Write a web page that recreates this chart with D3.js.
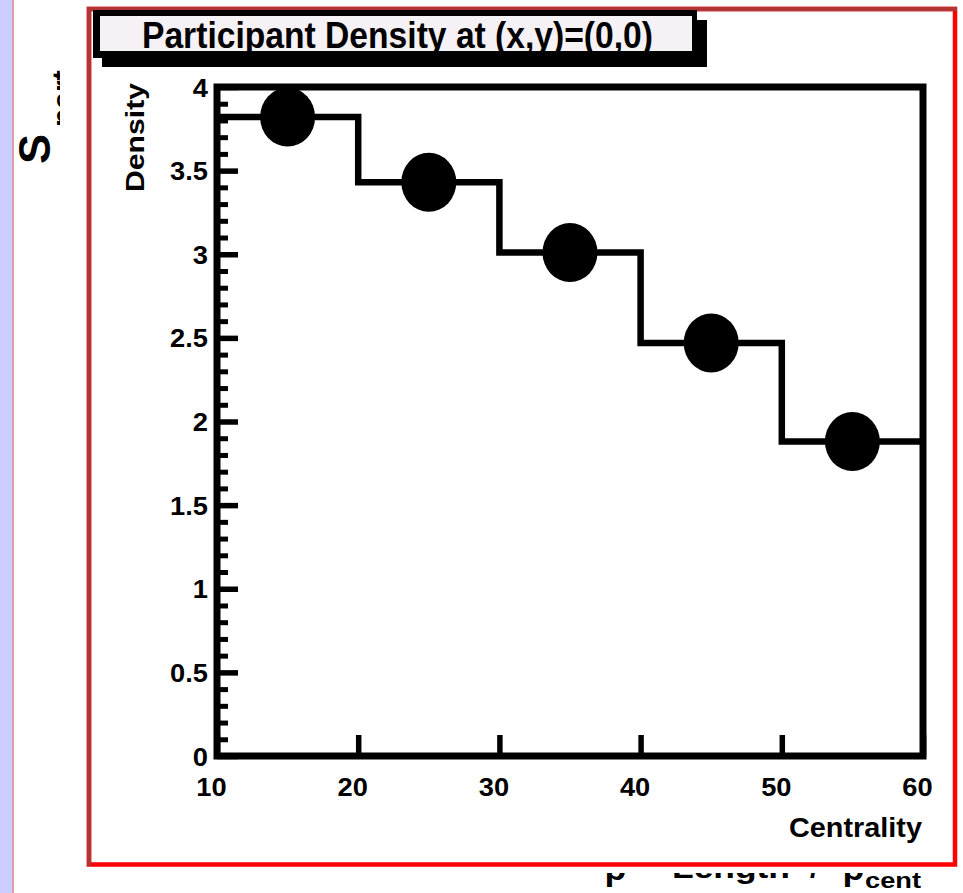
<!DOCTYPE html>
<html>
<head>
<meta charset="utf-8">
<script src="https://cdn.jsdelivr.net/npm/d3@7/dist/d3.min.js"></script>
<style>
  html, body { margin: 0; padding: 0; background: #ffffff; }
  svg { display: block; }
  text { font-family: "Liberation Sans", Arial, Helvetica, sans-serif; font-weight: bold; fill: #000; }
</style>
</head>
<body>
<svg id="chart" width="963" height="893"></svg>
<script>
// Centrality bins (percent) and participant density at the centre of each bin
const binEdges = [10, 20, 30, 40, 50, 60];
const binCenters = [15, 25, 35, 45, 55];
const density = [3.82, 3.43, 3.01, 2.47, 1.88];

// Axis ticks
const xTickValues = [10, 20, 30, 40, 50, 60];
const xTickLabels = ["10", "20", "30", "40", "50", "60"];
const yMajorTicks = [0, 0.5, 1, 1.5, 2, 2.5, 3, 3.5, 4];
const yTickLabels = ["0", "0.5", "1", "1.5", "2", "2.5", "3", "3.5", "4"];
const yMinorTicks = d3.range(1, 40).map(i => i / 10).filter(v => Math.abs(v * 2 - Math.round(v * 2)) > 1e-6);

const titleText = "Participant Density at (x,y)=(0,0)";
const xTitle = "Centrality";
const yTitle = "Density";

const svg = d3.select("#chart");

// Wide-glyph look of the labels: stretch each label horizontally
function widen(sel, factor) {
  sel.each(function () {
    const w = this.getComputedTextLength();
    this.setAttribute("textLength", (w * factor).toFixed(1));
    this.setAttribute("lengthAdjust", "spacingAndGlyphs");
  });
}

// ---- Slide background: left band and text lying behind the figure ----
svg.append("rect").attr("x", 0).attr("y", 0).attr("width", 12).attr("height", 893).attr("fill", "#ccccff");
svg.append("rect").attr("x", 12).attr("y", 0).attr("width", 2).attr("height", 893).attr("fill", "#dfa0a8");

svg.append("text")
  .attr("transform", "translate(50,164) rotate(-90)")
  .style("font-size", "45px")
  .text("S");
svg.append("text")
  .attr("transform", "translate(73,127) rotate(-90)")
  .style("font-size", "30px")
  .text("part");

const bottomLine = svg.append("g");
bottomLine.append("text").attr("x", 605).attr("y", 880).style("font-size", "34px").text("ρ");
bottomLine.append("text").attr("x", 672).attr("y", 878).style("font-size", "30px")
  .attr("textLength", 118).attr("lengthAdjust", "spacingAndGlyphs").text("Length");
bottomLine.append("text").attr("x", 810).attr("y", 878).style("font-size", "30px").text("/");
bottomLine.append("text").attr("x", 843).attr("y", 880).style("font-size", "34px").text("ρ");
bottomLine.append("text").attr("x", 865).attr("y", 888).style("font-size", "22px")
  .attr("textLength", 56).attr("lengthAdjust", "spacingAndGlyphs").text("cent");

// Figure canvas (white) covering the slide text behind it
svg.append("rect").attr("x", 60).attr("y", 0).attr("width", 903).attr("height", 873).attr("fill", "#ffffff");

// ---- Red figure frame (dark upper-left edge, bright lower-right edge) ----
svg.append("rect").attr("x", 89).attr("y", 9).attr("width", 866).attr("height", 855.5)
  .attr("fill", "none").attr("stroke", "#ff0000").attr("stroke-width", 4.5);
svg.append("path").attr("d", "M89,866 L89,9 L957,9")
  .attr("fill", "none").attr("stroke", "#b23434").attr("stroke-width", 4.5);

// ---- Plot scales ----
const x = d3.scaleLinear().domain([10, 60]).range([217, 923]);
const y = d3.scaleLinear().domain([0, 4]).range([756, 87]);

// Minor y ticks
svg.append("g")
  .attr("transform", `translate(${x(10)},0)`)
  .call(d3.axisLeft(y).tickValues(yMinorTicks).tickSize(-11).tickFormat(""))
  .call(g => g.select(".domain").remove())
  .call(g => g.selectAll(".tick line").attr("stroke", "#000").attr("stroke-width", 5));

// Major y ticks and labels
const yAxis = svg.append("g")
  .attr("transform", `translate(${x(10)},0)`)
  .call(d3.axisLeft(y).tickValues(yMajorTicks).tickSize(-21).tickPadding(9)
    .tickFormat((d, i) => yTickLabels[i]))
  .call(g => g.select(".domain").remove())
  .call(g => g.selectAll(".tick line").attr("stroke", "#000").attr("stroke-width", 5.5));
yAxis.selectAll(".tick text")
  .attr("fill", "#000")
  .attr("dy", null)
  .attr("y", 9)
  .style("font-size", "25px")
  .style("font-family", '"Liberation Sans", Arial, sans-serif')
  .style("font-weight", "bold")
  .call(widen, 1.09);

// x ticks and labels
const xAxis = svg.append("g")
  .attr("transform", `translate(0,${y(0)})`)
  .call(d3.axisBottom(x).tickValues(xTickValues).tickSize(-21)
    .tickFormat((d, i) => xTickLabels[i]))
  .call(g => g.select(".domain").remove())
  .call(g => g.selectAll(".tick line").attr("stroke", "#000").attr("stroke-width", 5.5));
xAxis.selectAll(".tick text")
  .attr("fill", "#000")
  .attr("dy", null)
  .attr("y", 40)
  .attr("x", -6)
  .style("font-size", "25px")
  .style("font-family", '"Liberation Sans", Arial, sans-serif')
  .style("font-weight", "bold")
  .call(widen, 1.09);

// Plot frame
svg.append("rect")
  .attr("x", x(10)).attr("y", y(4))
  .attr("width", x(60) - x(10)).attr("height", y(0) - y(4))
  .attr("fill", "none").attr("stroke", "#000").attr("stroke-width", 7);

// Step histogram of the density per centrality bin
const stepPoints = binEdges.map((e, i) => [e, density[Math.min(i, density.length - 1)]]);
svg.append("path")
  .datum(stepPoints)
  .attr("fill", "none")
  .attr("stroke", "#000")
  .attr("stroke-width", 6.5)
  .attr("stroke-linejoin", "miter")
  .attr("d", d3.line().x(d => x(d[0])).y(d => y(d[1])).curve(d3.curveStepAfter));

// Markers at the bin centres
svg.append("g")
  .selectAll("ellipse")
  .data(binCenters.map((c, i) => ({ c, v: density[i] })))
  .join("ellipse")
  .attr("cx", d => x(d.c))
  .attr("cy", d => y(d.v))
  .attr("rx", 27.5)
  .attr("ry", 29.5)
  .attr("fill", "#000");

// Axis titles
svg.append("text")
  .attr("x", 922).attr("y", 837)
  .attr("text-anchor", "end")
  .style("font-size", "27px")
  .attr("textLength", 133).attr("lengthAdjust", "spacingAndGlyphs")
  .text(xTitle);

svg.append("text")
  .attr("transform", "translate(144,192) rotate(-90)")
  .style("font-size", "26px")
  .attr("textLength", 109).attr("lengthAdjust", "spacingAndGlyphs")
  .text(yTitle);

// Title box with drop shadow
const tb = svg.append("g");
tb.append("rect").attr("x", 102).attr("y", 20).attr("width", 605).attr("height", 47).attr("fill", "#000");
tb.append("rect").attr("x", 93).attr("y", 10).attr("width", 604).attr("height", 48).attr("fill", "#000");
tb.append("rect").attr("x", 100).attr("y", 16).attr("width", 592).attr("height", 35).attr("fill", "#f5f1f5");
tb.append("text")
  .attr("x", 397.5).attr("y", 48)
  .attr("text-anchor", "middle")
  .style("font-size", "36px")
  .attr("textLength", 511).attr("lengthAdjust", "spacingAndGlyphs")
  .text(titleText);
</script>
</body>
</html>
